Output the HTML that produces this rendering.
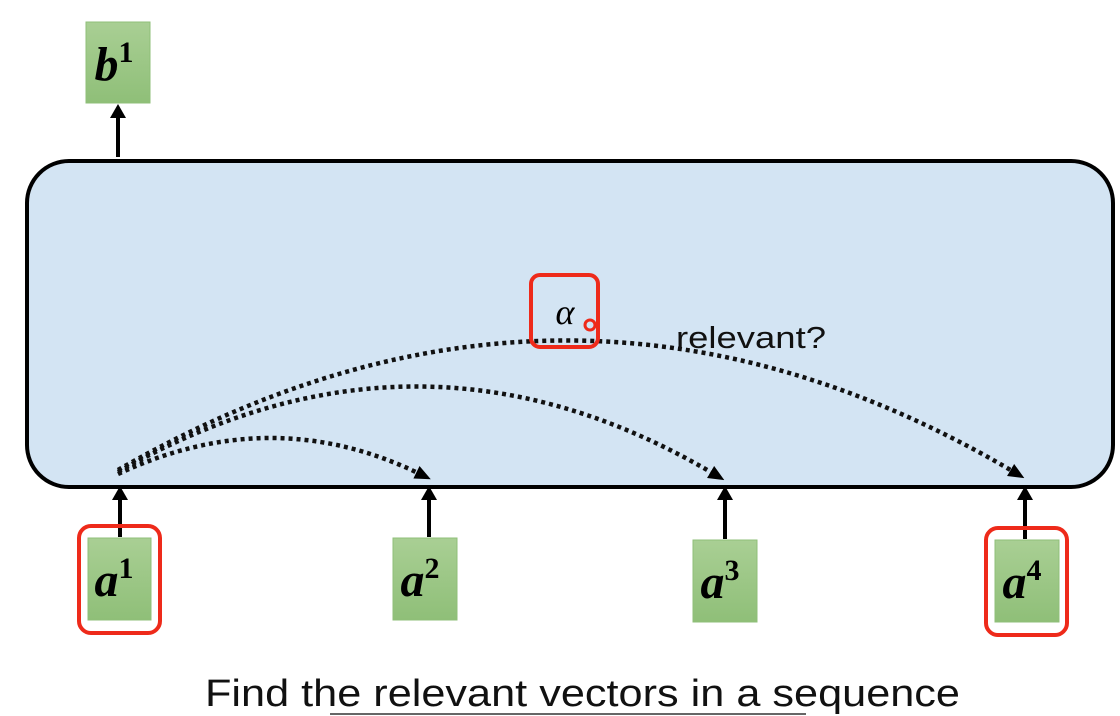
<!DOCTYPE html>
<html><head><meta charset="utf-8"><style>
html,body{margin:0;padding:0;background:#fff;width:1120px;height:716px;overflow:hidden}
svg{display:block}
</style></head><body>
<svg width="1120" height="716" viewBox="0 0 1120 716" xmlns="http://www.w3.org/2000/svg">
<defs>
<marker id="ah" markerWidth="16" markerHeight="14" refX="4" refY="7" orient="auto" markerUnits="userSpaceOnUse">
<path d="M0,0 L16,7 L0,14 z" fill="#000"/></marker>
<linearGradient id="gb" x1="0" y1="0" x2="0" y2="1"><stop offset="0" stop-color="#a9cf94"/><stop offset="1" stop-color="#8fbf78"/></linearGradient>
</defs>
<rect x="27" y="161" width="1086" height="326" rx="42" fill="#d3e4f3" stroke="#000" stroke-width="4"/>
<g>
<rect x="86" y="22" width="64" height="81" fill="url(#gb)" stroke="#8fbf78"/>
<text x="114" y="80" font-family="Liberation Serif, serif" font-weight="bold" font-style="italic" font-size="48" text-anchor="middle">b<tspan font-size="30" dy="-18" font-style="normal">1</tspan></text>
</g>
<g stroke="#000" stroke-width="4" fill="none">
<line x1="118" y1="157" x2="118" y2="116"/>
<line x1="120" y1="537" x2="120" y2="498"/>
<line x1="429" y1="537" x2="429" y2="498"/>
<line x1="725" y1="539" x2="725" y2="498"/>
<line x1="1025" y1="539" x2="1025" y2="498"/>
</g>
<g fill="#000">
<path d="M110,118 L118,104 L126,118 z"/>
<path d="M112,500 L120,486 L128,500 z"/>
<path d="M421,500 L429,486 L437,500 z"/>
<path d="M717,500 L725,486 L733,500 z"/>
<path d="M1017,500 L1025,486 L1033,500 z"/>
</g>
<g fill="none" stroke="#111" stroke-width="4.5" stroke-dasharray="4 4">
<path d="M118,474 Q272,402 420,474" marker-end="url(#ah)"/>
<path d="M118,472 Q420,300 714,474" marker-end="url(#ah)"/>
<path d="M118,470 Q570,210 1014,472" marker-end="url(#ah)"/>
</g>
<rect x="531" y="275" width="67" height="72" rx="9" fill="none" stroke="#ee2a1a" stroke-width="4"/>
<text x="565" y="324" font-family="Liberation Serif, serif" font-style="italic" font-size="36" text-anchor="middle">α</text>
<circle cx="590" cy="325" r="5" fill="none" stroke="#ee2a1a" stroke-width="3"/>
<text x="676" y="348" font-family="Liberation Sans, sans-serif" font-size="31" fill="#111" textLength="150" lengthAdjust="spacingAndGlyphs">relevant?</text>
<g font-family="Liberation Serif, serif" font-weight="bold" font-style="italic" font-size="48" text-anchor="middle">
<g><rect x="88" y="538" width="63" height="82" fill="url(#gb)" stroke="#8fbf78"/><text x="114" y="596">a<tspan font-size="30" dy="-18" font-style="normal">1</tspan></text></g>
<g><rect x="393" y="538" width="64" height="82" fill="url(#gb)" stroke="#8fbf78"/><text x="420" y="596">a<tspan font-size="30" dy="-18" font-style="normal">2</tspan></text></g>
<g><rect x="693" y="540" width="64" height="82" fill="url(#gb)" stroke="#8fbf78"/><text x="720" y="598">a<tspan font-size="30" dy="-18" font-style="normal">3</tspan></text></g>
<g><rect x="995" y="540" width="64" height="82" fill="url(#gb)" stroke="#8fbf78"/><text x="1022" y="598">a<tspan font-size="30" dy="-18" font-style="normal">4</tspan></text></g>
</g>
<rect x="79" y="526" width="81" height="107" rx="12" fill="none" stroke="#ee2a1a" stroke-width="4"/>
<rect x="986" y="528" width="81" height="107" rx="12" fill="none" stroke="#ee2a1a" stroke-width="4"/>
<text x="205" y="706" font-family="Liberation Sans, sans-serif" font-size="38" fill="#111" textLength="755" lengthAdjust="spacingAndGlyphs">Find the relevant vectors in a sequence</text>
<line x1="330" y1="714" x2="806" y2="714" stroke="#666" stroke-width="2"/>
</svg>
</body></html>
